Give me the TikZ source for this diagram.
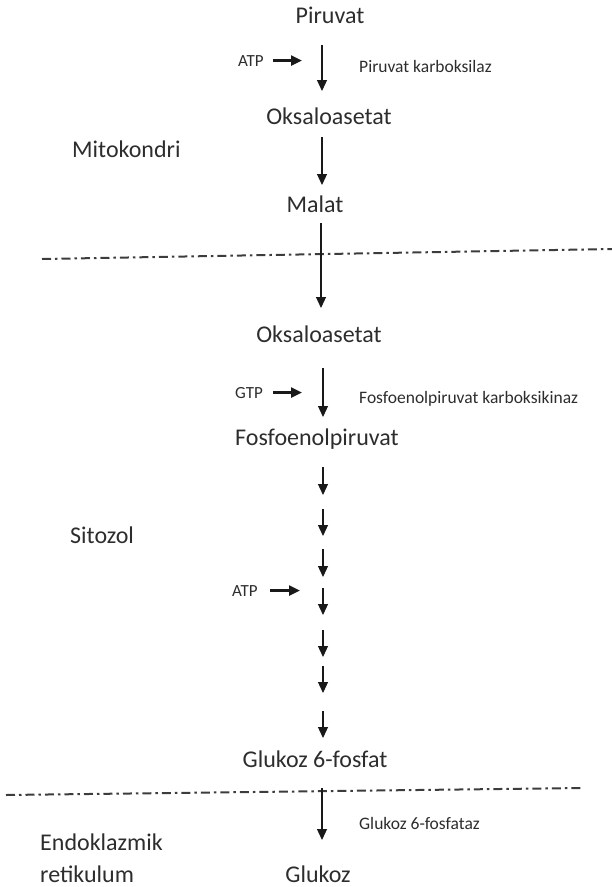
\documentclass[tikz,border=0pt]{standalone}
\usepackage{fontspec}
\setmainfont{Carlito}
\usetikzlibrary{arrows.meta}
\definecolor{ink}{RGB}{45,45,45}
\definecolor{arr}{RGB}{25,25,25}
\begin{document}
\begin{tikzpicture}[x=1pt,y=-1pt,
  compound/.style={anchor=base,text=ink,inner sep=0pt,font=\fontsize{24}{28}\selectfont},
  region/.style={anchor=base west,text=ink,inner sep=0pt,font=\fontsize{24}{28}\selectfont},
  enzyme/.style={anchor=base west,text=ink,inner sep=0pt,font=\fontsize{17.5}{20}\selectfont},
  cofactor/.style={anchor=base west,text=ink,inner sep=0pt,font=\fontsize{17}{20}\selectfont},
  flow/.style={draw=arr,line width=1.2pt,-{Triangle[width=10pt,length=11pt]}},
  feed/.style={draw=arr,line width=2.2pt,-{Triangle[width=10pt,length=11pt]}},
  membrane/.style={draw=arr!85,line width=2pt,dash pattern=on 9pt off 4pt on 2.5pt off 4pt}]
\useasboundingbox (0,0) rectangle (612,887);

% compartments
\node[region] (mito) at (72,157) {Mitokondri};
\node[region] (cyto) at (70,543) {Sitozol};
\node[region] (er1)  at (40,850) {Endoklazmik};
\node[region] (er2)  at (40,882) {retikulum};

% compartment boundaries
\coordinate (b1a) at (42,259);
\coordinate (b1b) at (612,249);
\coordinate (b2a) at (6,795);
\coordinate (b2b) at (582,788);
\draw[membrane] (b1a) -- (b1b);
\draw[membrane] (b2a) -- (b2b);

% metabolites
\node[compound] (pyr)  at (330,23)  {Piruvat};
\node[compound] (oaa1) at (329,124) {Oksaloasetat};
\node[compound] (mal)  at (315,212) {Malat};
\node[compound] (oaa2) at (319,342) {Oksaloasetat};
\node[compound] (pep)  at (317,445) {Fosfoenolpiruvat};
\node[compound] (g6p)  at (315,767) {Glukoz 6-fosfat};
\node[compound] (glc)  at (318,882) {Glukoz};

% enzymes
\node[enzyme] (pc)     at (359,72)  {Piruvat karboksilaz};
\node[enzyme] (pepck)  at (359,403) {Fosfoenolpiruvat karboksikinaz};
\node[enzyme] (g6pase) at (359,829) {Glukoz 6-fosfataz};

% energy inputs
\node[cofactor] (atp1) at (238,66)  {ATP};
\node[cofactor] (gtp)  at (235,398) {GTP};
\node[cofactor] (atp2) at (232,596) {ATP};
\coordinate (atp1t) at (302,60);
\coordinate (gtpt)  at (302,393);
\coordinate (atp2t) at (300,590);
\draw[feed] ([xshift=9pt]atp1.east) -- (atp1.east -| atp1t);
\draw[feed] ([xshift=10pt]gtp.east) -- (gtp.east -| gtpt);
\draw[feed] ([xshift=12pt]atp2.east) -- (atp2.east -| atp2t);

% main reactions
\coordinate (r1a) at (322,45);  \coordinate (r1b) at (322,91);
\coordinate (r2a) at (322,137); \coordinate (r2b) at (322,185);
\coordinate (r3a) at (321,223); \coordinate (r3b) at (321,308);
\coordinate (r4a) at (323,368); \coordinate (r4b) at (323,417);
\coordinate (r5a) at (322,788); \coordinate (r5b) at (322,840);
\draw[flow] (r1a) -- (r1b);
\draw[flow] (r2a) -- (r2b);
\draw[flow] (r3a) -- (r3b);
\draw[flow] (r4a) -- (r4b);
\draw[flow] (r5a) -- (r5b);

% gluconeogenic steps between PEP and glucose 6-phosphate
\foreach \i/\ya/\yb in {1/467/495,2/509/536,3/549/577,4/588/615,5/630/657,6/666/693,7/711/738}{
  \coordinate (s\i a) at (323,\ya);
  \coordinate (s\i b) at (323,\yb);
  \draw[flow] (s\i a) -- (s\i b);
}
\end{tikzpicture}
\end{document}
